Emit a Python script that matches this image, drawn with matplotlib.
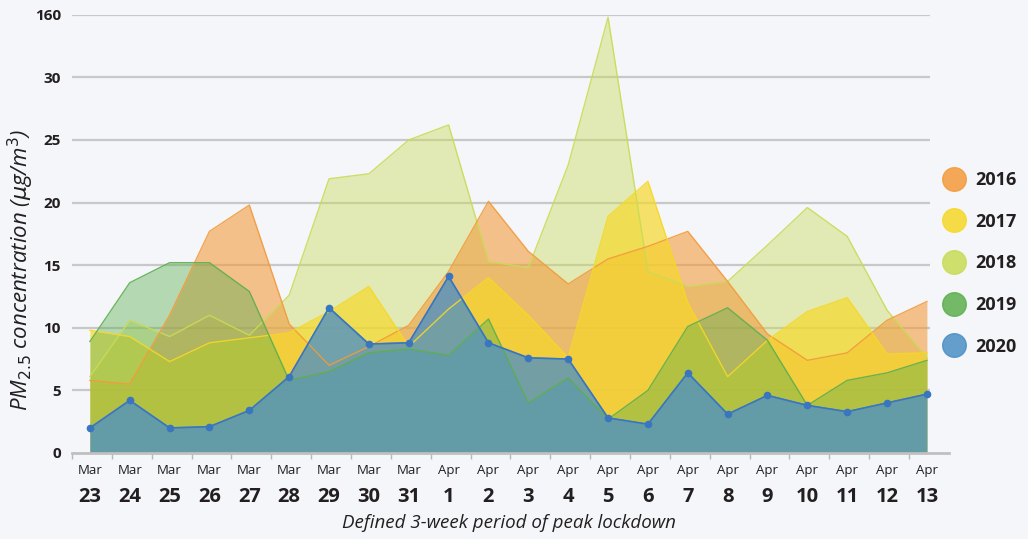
import numpy as np
import matplotlib
matplotlib.use("Agg")
import matplotlib.pyplot as plt
from matplotlib.lines import Line2D

plt.rcParams['font.family'] = ['Open Sans', 'DejaVu Sans']

# dates of the lockdown window
months = ['Mar'] * 9 + ['Apr'] * 13
days = ['23', '24', '25', '26', '27', '28', '29', '30', '31',
        '1', '2', '3', '4', '5', '6', '7', '8', '9', '10', '11', '12', '13']

# PM2.5 values (ug/m3)
pm_2016 = [5.8, 5.5, 11.0, 17.7, 19.8, 10.3, 7.0, 8.5, 10.2, 14.5, 20.1,
           16.1, 13.5, 15.5, 16.5, 17.7, 13.7, 9.5, 7.4, 8.0, 10.6, 12.1]
pm_2017 = [9.8, 9.3, 7.3, 8.8, 9.2, 9.6, 11.3, 13.3, 8.5, 11.5, 14.0,
           11.0, 7.6, 18.9, 21.7, 12.0, 6.1, 9.0, 11.3, 12.4, 7.9, 8.0]
pm_2018 = [6.1, 10.6, 9.3, 11.0, 9.4, 12.6, 21.9, 22.3, 25.0, 26.2, 15.3,
           14.8, 23.0, 34.8, 14.5, 13.3, 13.7, 16.6, 19.6, 17.3, 11.4, 7.6]
pm_2019 = [8.9, 13.6, 15.2, 15.2, 12.9, 5.8, 6.5, 8.0, 8.3, 7.8, 10.7,
           4.0, 6.0, 2.7, 5.0, 10.1, 11.6, 9.0, 3.8, 5.8, 6.4, 7.4]
pm_2020 = [2.0, 4.2, 2.0, 2.1, 3.4, 6.1, 11.6, 8.7, 8.8, 14.1, 8.8,
           7.6, 7.5, 2.8, 2.3, 6.4, 3.1, 4.6, 3.8, 3.3, 4.0, 4.7]

y_ticks = [0, 5, 10, 15, 20, 25, 30, 35]
y_labels = ['0', '5', '10', '15', '20', '25', '30', '160']

bg = '#f4f6f9'
txt = '#231f20'
series = [
    ('2018', pm_2018, '#c9db55', 0.42),
    ('2016', pm_2016, '#f39a3b', 0.58),
    ('2017', pm_2017, '#f6d826', 0.68),
    ('2019', pm_2019, '#5caf4e', 0.42),
    ('2020', pm_2020, '#4a8fc6', 0.76),
]
legend_order = ['2016', '2017', '2018', '2019', '2020']

fig = plt.figure(figsize=(10.28, 5.39), dpi=100, facecolor=bg)
ax = fig.add_axes([0.070, 0.1596, 0.853, 0.813])
ax.set_facecolor(bg)

x = np.arange(len(days))

# grid lines stop at the last data point
ax.hlines(y_ticks[1:], -0.45, 21.08, color='#c8c8c8', lw=1.6, zorder=0)

for name, vals, col, a in series:
    ax.fill_between(x, 0, vals, color=col, alpha=a, lw=0, zorder=2)
    ax.plot(x, vals, color=col, lw=1.0, alpha=0.9, zorder=3)

ax.plot(x, pm_2020, color='#3a76bf', lw=1.2, marker='o', ms=4.5, zorder=4)

ax.set_xlim(-0.45, 21.55)
ax.set_ylim(0, 35)
ax.set_yticks(y_ticks)
ax.set_yticklabels(y_labels, fontsize=11, fontweight='bold', color=txt)
ax.tick_params(axis='y', length=0, pad=8)

ax.set_xticks(np.arange(22) - 0.45)
ax.set_xticklabels([])
ax.tick_params(axis='x', length=4, color='#b8b8b8', width=1)

for s in ['top', 'right', 'left']:
    ax.spines[s].set_visible(False)
ax.spines['bottom'].set_color('#c0c0c0')
ax.spines['bottom'].set_linewidth(2)

for i in range(len(days)):
    ax.annotate(months[i], xy=(i, 0), xycoords=('data', 'axes fraction'),
                xytext=(0, -12.5), textcoords='offset points',
                ha='center', va='center', fontsize=9.5, color=txt)
    ax.annotate(days[i], xy=(i, 0), xycoords=('data', 'axes fraction'),
                xytext=(0, -31.5), textcoords='offset points',
                ha='center', va='center', fontsize=14.5, fontweight='bold', color=txt)

fig.text(0.495, 0.03, 'Defined 3-week period of peak lockdown', ha='center', va='center',
         fontsize=13.5, style='italic', color=txt)
fig.text(0.02, 0.5, r'PM$_{2.5}$ concentration ($\mu$g/m$^3$)', ha='center', va='center',
         rotation=90, fontsize=16, style='italic', color=txt)

colors = {name: col for name, vals, col, a in series}
handles = [Line2D([], [], ls='', marker='o', ms=17, mfc=colors[n], mec=colors[n], alpha=0.85)
           for n in legend_order]
leg = fig.legend(handles, legend_order, loc='upper left', bbox_to_anchor=(0.909, 0.6994),
                 frameon=False, borderpad=0, handlelength=1.2, handletextpad=0.55,
                 labelspacing=1.31, prop={'size': 13, 'weight': 'bold'})
for t in leg.get_texts():
    t.set_color(txt)

fig.savefig('out.png', dpi=100, facecolor=bg)
